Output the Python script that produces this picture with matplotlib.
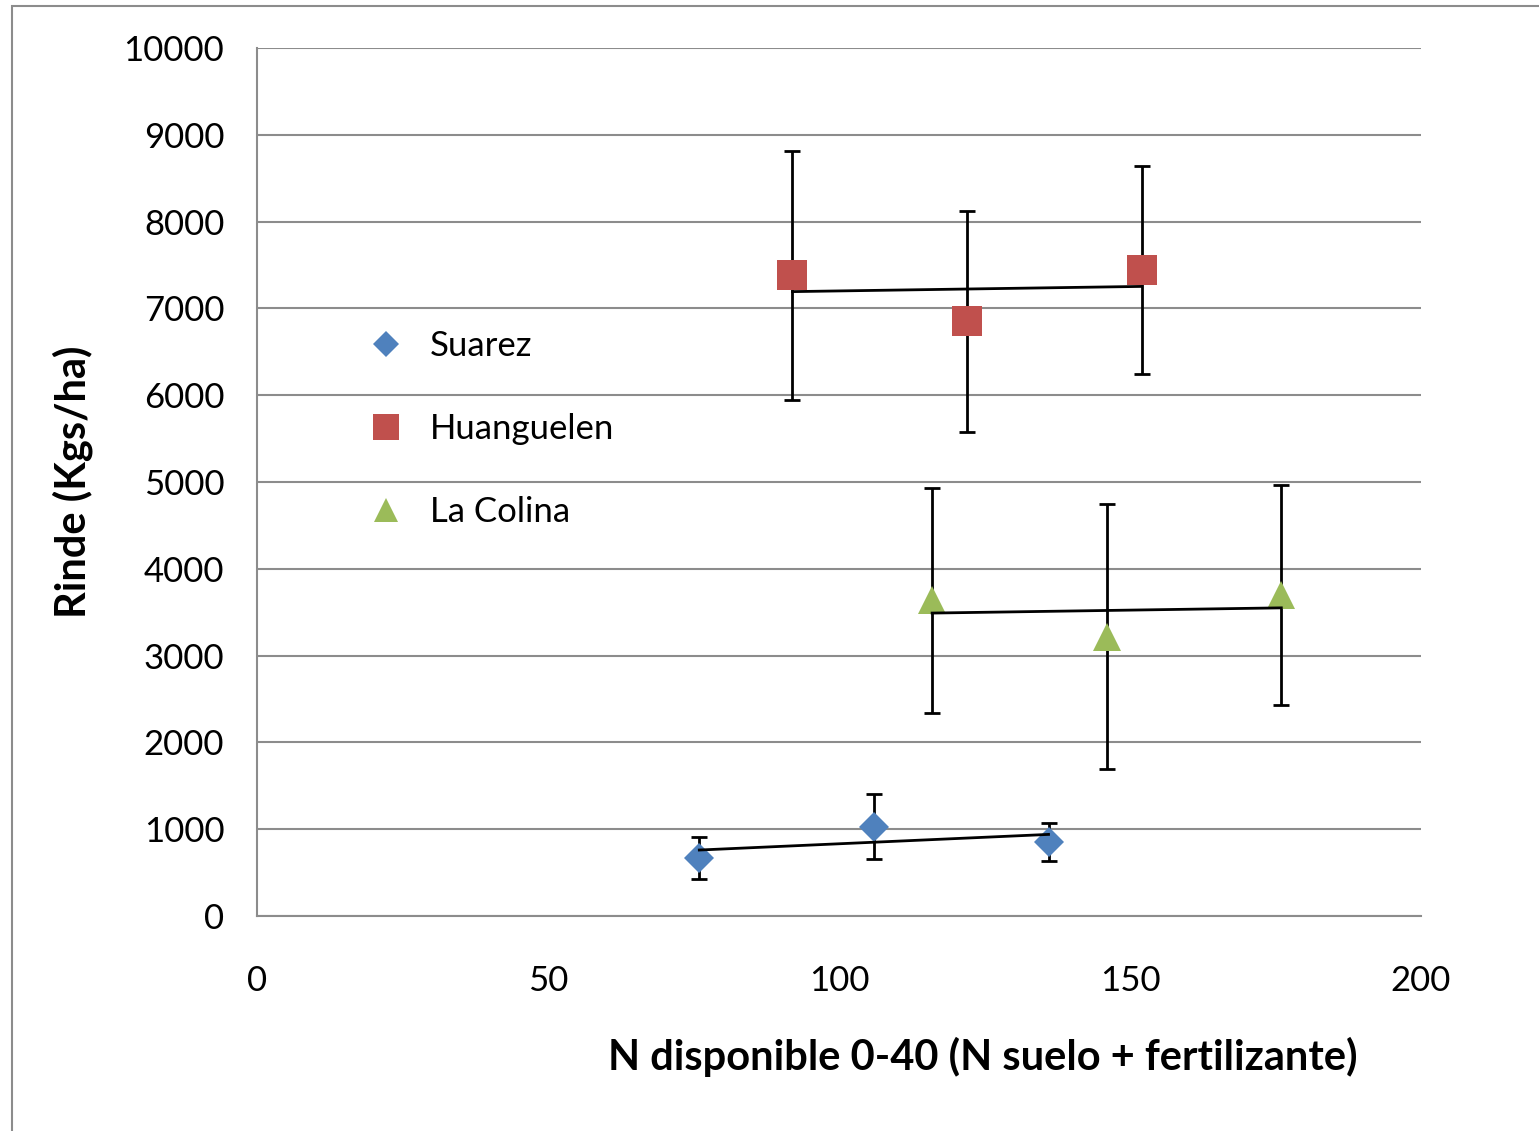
import numpy as np
import matplotlib
matplotlib.use("Agg")
import matplotlib.pyplot as plt
from matplotlib.lines import Line2D
from matplotlib.patches import Rectangle

plt.rcParams['font.family'] = ['Lato', 'DejaVu Sans']

# Data
series = ["Suarez", "Huanguelen", "La Colina"]
suarez_x = [76, 106, 136]
suarez_y = [670, 1030, 850]
suarez_err = [240, 370, 222]
huang_x = [92, 122, 152]
huang_y = [7380, 6850, 7440]
huang_err = [1430, 1270, 1200]
colina_x = [116, 146, 176]
colina_y = [3640, 3220, 3700]
colina_err = [1296, 1524, 1267]

colors = ["#4F81BD", "#C0504D", "#9BBB59"]
markers = ["D", "s", "^"]
msizes = [15, 21.5, 20]

x_ticks = [0, 50, 100, 150, 200]
y_ticks = [0, 1000, 2000, 3000, 4000, 5000, 6000, 7000, 8000, 9000, 10000]

W, H = 1539, 1131
fig = plt.figure(figsize=(W / 100, H / 100), dpi=100)
ax = fig.add_axes([257 / W, 1 - 916 / H, (1421 - 257) / W, (916 - 48) / H])

grid_c = "#8C8C8C"
for yt in y_ticks:
    ax.axhline(yt, color=grid_c, lw=1.5, zorder=1)

data = [(suarez_x, suarez_y, suarez_err), (huang_x, huang_y, huang_err),
        (colina_x, colina_y, colina_err)]
for (xs, ys, es), c, m, ms in zip(data, colors, markers, msizes):
    ax.errorbar(xs, ys, yerr=es, fmt="none", ecolor="black", elinewidth=2,
                capsize=6, capthick=2, zorder=2)
    ax.plot(xs, ys, linestyle="none", marker=m, markersize=ms, color=c,
            markeredgewidth=0, zorder=3)
    k, b = np.polyfit(xs, ys, 1)
    xx = np.array([min(xs), max(xs)])
    ax.plot(xx, k * xx + b, color="black", lw=2, zorder=4)

ax.set_xlim(0, 200)
ax.set_ylim(0, 10000)
ax.set_xticks(x_ticks)
ax.set_yticks(y_ticks)
ax.tick_params(axis="both", length=0, labelsize=25)
ax.tick_params(axis="x", pad=35)
ax.tick_params(axis="y", pad=23.5)
for s in ["top", "right"]:
    ax.spines[s].set_visible(False)
ax.spines["left"].set_color(grid_c)
ax.spines["left"].set_linewidth(1.5)
ax.spines["bottom"].set_color(grid_c)
ax.spines["bottom"].set_linewidth(1.5)

ax.set_xlabel("N disponible 0-40 (N suelo + fertilizante)", fontsize=30,
              fontweight="bold")
ax.xaxis.label.set_va("center")
ax.xaxis.set_label_coords((983 - 257) / 1164, (916 - 1057) / 868)
ax.set_ylabel("Rinde (Kgs/ha)", fontsize=30, fontweight="bold")
ax.yaxis.label.set_va("center")
ax.yaxis.set_label_coords((73 - 257) / 1164, 0.5)

handles = [Line2D([], [], linestyle="none", marker=m, color=c,
                  markeredgewidth=0, markersize=ms * 0.85)
           for m, c, ms in zip(markers, colors, msizes)]
ax.legend(handles, series, loc="upper left",
          bbox_to_anchor=((371 - 257) / 1164, (916 - 330) / 868),
          frameon=False, fontsize=25, borderpad=0, borderaxespad=0,
          handlelength=0.85, handletextpad=0.84, labelspacing=1.47)

fig.add_artist(Rectangle((12 / W, -0.1), 2, 1 - 6 / H + 0.1,
                         transform=fig.transFigure, fill=False,
                         edgecolor=grid_c, lw=1.5))

fig.savefig("out.png", dpi=100, facecolor="white")
